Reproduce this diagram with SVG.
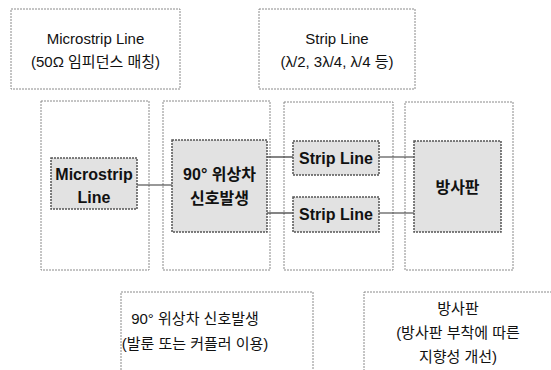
<svg xmlns="http://www.w3.org/2000/svg" width="551" height="370" viewBox="0 0 551 370">
<style>
.frame{fill:#ffffff;stroke:#8a8a8a;stroke-width:1;stroke-dasharray:2 1}
.blk{fill:#e2e2e2;stroke:#555;stroke-width:1.5;stroke-dasharray:2 1}
.lbl{font-family:"Liberation Sans","Noto Sans CJK KR",sans-serif;font-size:15px;fill:#111;text-anchor:middle}
.bl{font-family:"Liberation Sans","Noto Sans CJK KR",sans-serif;font-size:16px;font-weight:bold;fill:#111;text-anchor:middle}
.wire{fill:none;stroke:#333;stroke-width:1.2}
</style>
<rect width="551" height="370" fill="#ffffff"/>
<g id="note-microstrip">
<rect class="frame" x="11" y="9" width="169" height="80"/>
<text class="lbl" x="95.5" y="44">Microstrip Line</text>
<text class="lbl" x="95.5" y="67">(50Ω 임피던스 매칭)</text>
</g>
<g id="note-stripline">
<rect class="frame" x="259" y="9" width="156" height="80"/>
<text class="lbl" x="337" y="44">Strip Line</text>
<text class="lbl" x="337" y="67">(λ/2, 3λ/4, λ/4 등)</text>
</g>
<g id="col1"><rect class="frame" x="41" y="101" width="108" height="169"/></g>
<g id="col2"><rect class="frame" x="163" y="101" width="107" height="169"/></g>
<g id="col3"><rect class="frame" x="284" y="102" width="109" height="168"/></g>
<g id="col4"><rect class="frame" x="405" y="102" width="108" height="168"/></g>
<g id="connectors">
<path class="wire" d="M137,185 H172"/>
<path class="wire" d="M267,157 H293"/>
<path class="wire" d="M267,213 H293"/>
<path class="wire" d="M379,157 H414"/>
<path class="wire" d="M379,213 H414"/>
</g>
<g id="microstrip">
<rect class="blk" x="51" y="158" width="86" height="51"/>
<text class="bl" x="94" y="180">Microstrip</text>
<text class="bl" x="94" y="203">Line</text>
</g>
<g id="phase90">
<rect class="blk" x="172" y="140" width="95" height="92"/>
<text class="bl" x="219.5" y="180">90° 위상차</text>
<text class="bl" x="219.5" y="204">신호발생</text>
</g>
<g id="strip1">
<rect class="blk" x="293" y="141" width="86" height="34"/>
<text class="bl" x="336" y="164">Strip Line</text>
</g>
<g id="strip2">
<rect class="blk" x="293" y="197" width="86" height="35"/>
<text class="bl" x="336" y="220">Strip Line</text>
</g>
<g id="radiator">
<rect class="blk" x="414" y="141" width="87" height="91"/>
<text class="bl" x="457.5" y="193">방사판</text>
</g>
<g id="note-phase">
<rect class="frame" x="121" y="292" width="192" height="90"/>
<text class="lbl" x="195" y="324">90° 위상차 신호발생</text>
<text class="lbl" x="195" y="349">(발룬 또는 커플러 이용)</text>
</g>
<g id="note-radiator">
<rect class="frame" x="364" y="292" width="200" height="90"/>
<text class="lbl" x="458" y="314">방사판</text>
<text class="lbl" x="458" y="338">(방사판 부착에 따른</text>
<text class="lbl" x="458" y="362">지향성 개선)</text>
</g>
</svg>
